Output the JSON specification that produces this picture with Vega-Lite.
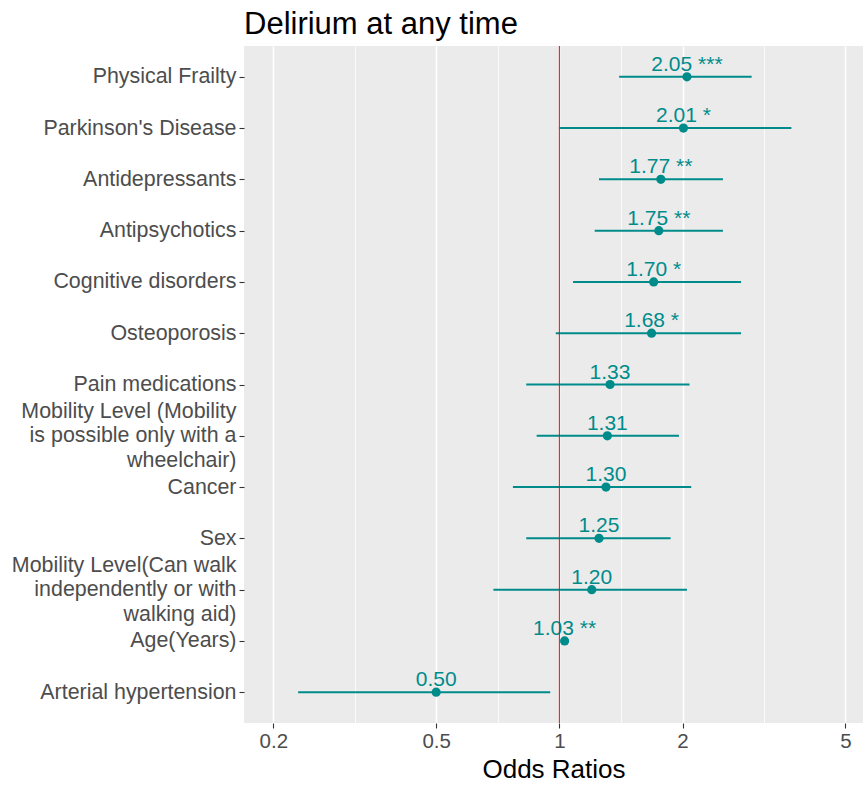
{
  "$schema": "https://vega.github.io/schema/vega-lite/v6.json",
  "width": 619,
  "height": 677,
  "autosize": {"type": "none"},
  "padding": {"left": 244, "top": 46, "right": 0, "bottom": 63},
  "background": "white",
  "title": {
    "text": "Delirium at any time",
    "anchor": "start",
    "frame": "group",
    "fontSize": 31,
    "font": "Liberation Sans",
    "fontWeight": "normal",
    "color": "black",
    "baseline": "alphabetic",
    "offset": 13,
    "dy": 32
  },
  "config": {
    "view": {"fill": "#EBEBEB", "stroke": null},
    "font": "Liberation Sans"
  },
  "data": {
    "values": [
      {"name": "Physical Frailty", "or": 2.05, "lo": 1.40, "hi": 2.95, "label": "2.05 ***"},
      {"name": "Parkinson's Disease", "or": 2.01, "lo": 1.00, "hi": 3.69, "label": "2.01 *"},
      {"name": "Antidepressants", "or": 1.77, "lo": 1.25, "hi": 2.51, "label": "1.77 **"},
      {"name": "Antipsychotics", "or": 1.75, "lo": 1.22, "hi": 2.51, "label": "1.75 **"},
      {"name": "Cognitive disorders", "or": 1.70, "lo": 1.08, "hi": 2.78, "label": "1.70 *"},
      {"name": "Osteoporosis", "or": 1.68, "lo": 0.98, "hi": 2.78, "label": "1.68 *"},
      {"name": "Pain medications", "or": 1.33, "lo": 0.83, "hi": 2.08, "label": "1.33"},
      {"name": "Mobility Level (Mobility\nis possible only with a\nwheelchair)", "or": 1.31, "lo": 0.88, "hi": 1.96, "label": "1.31"},
      {"name": "Cancer", "or": 1.30, "lo": 0.77, "hi": 2.10, "label": "1.30"},
      {"name": "Sex", "or": 1.25, "lo": 0.83, "hi": 1.87, "label": "1.25"},
      {"name": "Mobility Level(Can walk\nindependently or with\nwalking aid)", "or": 1.20, "lo": 0.69, "hi": 2.05, "label": "1.20"},
      {"name": "Age(Years)", "or": 1.03, "lo": 1.01, "hi": 1.05, "label": "1.03 **"},
      {"name": "Arterial hypertension", "or": 0.50, "lo": 0.23, "hi": 0.95, "label": "0.50"}
    ]
  },
  "layer": [
    {
      "mark": {"type": "rule", "color": "#008B8B", "strokeWidth": 2},
      "encoding": {
        "x": {
          "field": "lo",
          "type": "quantitative",
          "scale": {"type": "log", "domain": [0.1696, 5.52], "nice": false, "zero": false},
          "axis": {
            "title": "Odds Ratios",
            "titleFontSize": 26,
            "titleFont": "Liberation Sans",
            "titleFontWeight": "normal",
            "titleColor": "black",
            "titlePadding": 5,
            "values": [0.2, 0.3162, 0.5, 0.7071, 1, 1.4142, 2, 3.1623, 5],
            "labelExpr": "indexof([0.2,0.5,1,2,5], datum.value) >= 0 ? toString(datum.value) : ''",
            "labelFontSize": 20.5,
            "labelColor": "#4D4D4D",
            "labelFont": "Liberation Sans",
            "labelPadding": 3,
            "labelFlush": false,
            "labelOverlap": false,
            "domain": false,
            "tickSize": 5,
            "tickColor": "#333333",
            "tickWidth": 1.1,
            "tickOpacity": {"condition": {"test": "indexof([0.2,0.5,1,2,5], datum.value) >= 0", "value": 1}, "value": 0},
            "gridColor": "white",
            "gridWidth": {"condition": {"test": "indexof([0.2,0.5,1,2,5], datum.value) >= 0", "value": 1.6}, "value": 0.8}
          }
        },
        "x2": {"field": "hi"},
        "y": {
          "field": "name",
          "type": "nominal",
          "sort": null,
          "scale": {"type": "point", "padding": 0.6},
          "axis": {
            "title": null,
            "labelExpr": "split(datum.label, '\\n')",
            "labelFontSize": 21.4,
            "labelColor": "#4D4D4D",
            "labelFont": "Liberation Sans",
            "labelLineHeight": 24.5,
            "labelPadding": 3,
            "labelLimit": 0,
            "labelOffset": {"condition": {"test": "indexof(datum.label, '\\n') >= 0", "value": -24.5}, "value": 0},
            "tickSize": 5,
            "tickColor": "#333333",
            "tickWidth": 1.1,
            "gridColor": "white",
            "gridWidth": 1.6,
            "domain": false
          }
        }
      }
    },
    {
      "mark": {"type": "point", "filled": true, "size": 85, "color": "#008B8B", "opacity": 1},
      "encoding": {
        "x": {"field": "or", "type": "quantitative"},
        "y": {"field": "name", "type": "nominal", "sort": null}
      }
    },
    {
      "mark": {"type": "text", "color": "#008B8B", "fontSize": 21, "font": "Liberation Sans", "align": "center", "baseline": "alphabetic", "dy": -6},
      "encoding": {
        "x": {"field": "or", "type": "quantitative"},
        "y": {"field": "name", "type": "nominal", "sort": null},
        "text": {"field": "label"}
      }
    },
    {
      "data": {"values": [{"ref": 1}]},
      "mark": {"type": "rule", "color": "#FF0000", "strokeWidth": 1},
      "encoding": {
        "x": {"field": "ref", "type": "quantitative"}
      }
    }
  ]
}
